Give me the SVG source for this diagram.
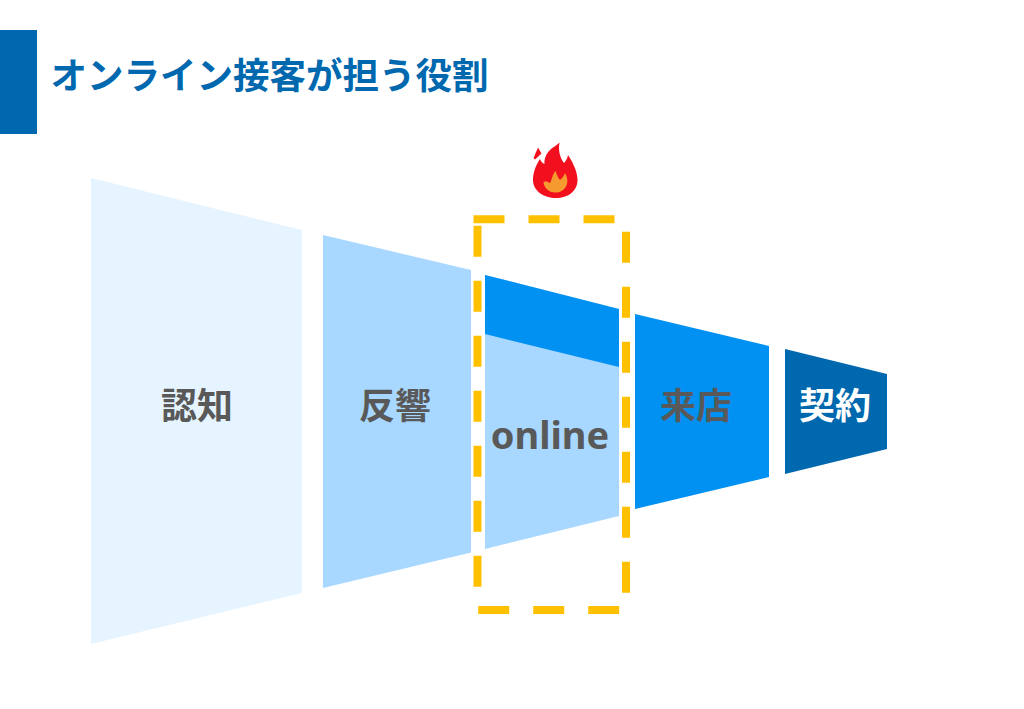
<svg xmlns="http://www.w3.org/2000/svg" width="1024" height="709" viewBox="0 0 1024 709">
<style>
text{font-family:"Noto Sans CJK JP","Noto Sans",sans-serif;font-weight:700;text-anchor:middle}
.lab{font-size:36px;fill:#595959}
.wh{fill:#fff}
</style>
<rect width="1024" height="709" fill="#fff"/>
<g id="header">
<rect x="0" y="30" width="37" height="104" fill="#0068AE"/>
<text x="269.500" y="89" font-size="36.500" fill="#0068AE">オンライン接客が担う役割</text>
</g>
<g id="node-awareness">
<path d="M91 178L302 230V593L91 644Z" fill="#E5F4FF"/>
<text class="lab" x="197" y="419">認知</text>
</g>
<g id="node-response">
<path d="M323 235L471 270V552.500L323 588Z" fill="#A8D8FF"/>
<text class="lab" x="395" y="419">反響</text>
</g>
<g id="node-online">
<path d="M485 275L619 309V516L485 549Z" fill="#A8D8FF"/>
<path d="M485 275L619 309V367L485 334Z" fill="#0091F2"/>
<text class="lab" x="550" y="449" style="font-family:'Noto Sans',sans-serif;font-size:38px">online</text>
</g>
<g id="node-visit">
<path d="M635 314L769 346V477L635 509Z" fill="#0091F2"/>
<text class="lab" x="696" y="419">来店</text>
</g>
<g id="node-contract">
<path d="M785 349L887 374V449L785 474Z" fill="#0068AE"/>
<text class="lab wh" x="835" y="419">契約</text>
</g>
<g id="highlight">
<path d="M473.500 219.300H626V610H477.500V219.300" fill="none" stroke="#FFC000" stroke-width="8" stroke-dasharray="31 24"/>
</g>
<g id="flame">
<path d="M559.500 142.500C556 146 553 147 550 150C546 154 544 159 544.500 164C542 163 541 161 540 159C536 165 533 172 533 180C533 191 544 198 556 198C568 198 578 191 577.500 179C577 170 572 161 568 155C567.500 158 566 161 564 163C560 158 558 150 559.500 142.500Z" fill="#F20F1E"/>
<path d="M533.500 158L538 147.500L541.500 153.500L535 159.500Z" fill="#F20F1E"/>
<path d="M555.500 171C557 175 558 178 560 180C562 178 564 176 565 173C567 176 568 180 567 184C565 190 560 193 555 192.500C549 192.500 544 188 543.500 182C546 181 548 182 550 183C552 180 552 175 555.500 171Z" fill="#F59A2F"/>
</g>
</svg>
